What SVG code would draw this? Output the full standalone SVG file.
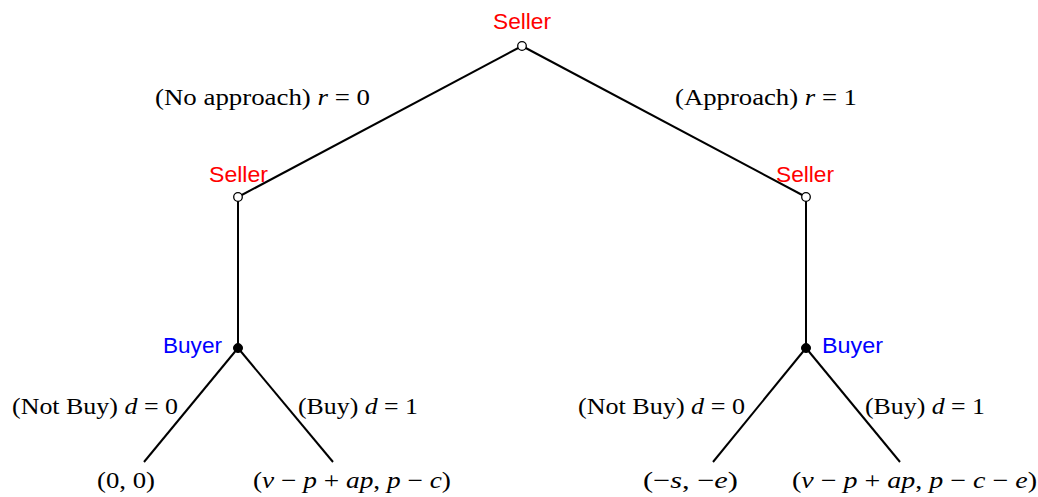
<svg xmlns="http://www.w3.org/2000/svg" width="1038" height="497" viewBox="0 0 1038 497">
<style>
.edge{stroke:#000;stroke-width:2;fill:none}
.open{fill:#fff;stroke:#000;stroke-width:1.3}
.fill{fill:#000;stroke:#000;stroke-width:1}
.sl{font-family:"Liberation Sans",Arial,sans-serif;font-size:22px;fill:#ff0000}
.by{font-family:"Liberation Sans",Arial,sans-serif;font-size:22px;fill:#0000ff}
.t{font-family:"Liberation Serif","Times New Roman",serif;font-size:23px;fill:#000}
.m{font-style:italic}
</style>
<rect width="1038" height="497" fill="#fff"/>
<g id="connectors">
<line class="edge" x1="522" y1="46" x2="238" y2="197"/>
<line class="edge" x1="522" y1="46" x2="806" y2="197"/>
<line class="edge" x1="238" y1="197" x2="238" y2="348"/>
<line class="edge" x1="806" y1="197" x2="806" y2="348"/>
<line class="edge" x1="238" y1="348" x2="144" y2="462"/>
<line class="edge" x1="238" y1="348" x2="333" y2="462"/>
<line class="edge" x1="806" y1="348" x2="713" y2="462"/>
<line class="edge" x1="806" y1="348" x2="900" y2="462"/>
</g>
<g id="edge-labels">
<text class="t" x="155" y="105" textLength="215" lengthAdjust="spacingAndGlyphs">(No approach) <tspan class="m">r</tspan> = 0</text>
<text class="t" x="675" y="105" textLength="182" lengthAdjust="spacingAndGlyphs">(Approach) <tspan class="m">r</tspan> = 1</text>
<text class="t" x="12" y="414" textLength="166" lengthAdjust="spacingAndGlyphs">(Not Buy) <tspan class="m">d</tspan> = 0</text>
<text class="t" x="298" y="414" textLength="120" lengthAdjust="spacingAndGlyphs">(Buy) <tspan class="m">d</tspan> = 1</text>
<text class="t" x="578" y="414" textLength="167" lengthAdjust="spacingAndGlyphs">(Not Buy) <tspan class="m">d</tspan> = 0</text>
<text class="t" x="865" y="414" textLength="120" lengthAdjust="spacingAndGlyphs">(Buy) <tspan class="m">d</tspan> = 1</text>
</g>
<g id="root">
<circle class="open" cx="522" cy="46" r="4.3"/>
<text class="sl" x="493" y="29" textLength="58" lengthAdjust="spacingAndGlyphs">Seller</text>
</g>
<g id="seller-left">
<circle class="open" cx="238" cy="197" r="4.3"/>
<text class="sl" x="209" y="182" textLength="59" lengthAdjust="spacingAndGlyphs">Seller</text>
</g>
<g id="seller-right">
<circle class="open" cx="806" cy="197" r="4.3"/>
<text class="sl" x="776" y="182" textLength="58" lengthAdjust="spacingAndGlyphs">Seller</text>
</g>
<g id="buyer-left">
<circle class="fill" cx="238" cy="348" r="4.5"/>
<text class="by" x="163" y="353" textLength="59" lengthAdjust="spacingAndGlyphs">Buyer</text>
</g>
<g id="buyer-right">
<circle class="fill" cx="806" cy="348" r="4.5"/>
<text class="by" x="822" y="353" textLength="61" lengthAdjust="spacingAndGlyphs">Buyer</text>
</g>
<g id="leaf1"><text class="t" x="97" y="488" textLength="58" lengthAdjust="spacingAndGlyphs">(0, 0)</text></g>
<g id="leaf2"><text class="t" x="253" y="488" textLength="198" lengthAdjust="spacingAndGlyphs">(<tspan class="m">v</tspan> − <tspan class="m">p</tspan> + <tspan class="m">ap</tspan>, <tspan class="m">p</tspan> − <tspan class="m">c</tspan>)</text></g>
<g id="leaf3"><text class="t" x="643" y="488" textLength="95" lengthAdjust="spacingAndGlyphs">(−<tspan class="m">s</tspan>, −<tspan class="m">e</tspan>)</text></g>
<g id="leaf4"><text class="t" x="792" y="488" textLength="245" lengthAdjust="spacingAndGlyphs">(<tspan class="m">v</tspan> − <tspan class="m">p</tspan> + <tspan class="m">ap</tspan>, <tspan class="m">p</tspan> − <tspan class="m">c</tspan> − <tspan class="m">e</tspan>)</text></g>
</svg>
